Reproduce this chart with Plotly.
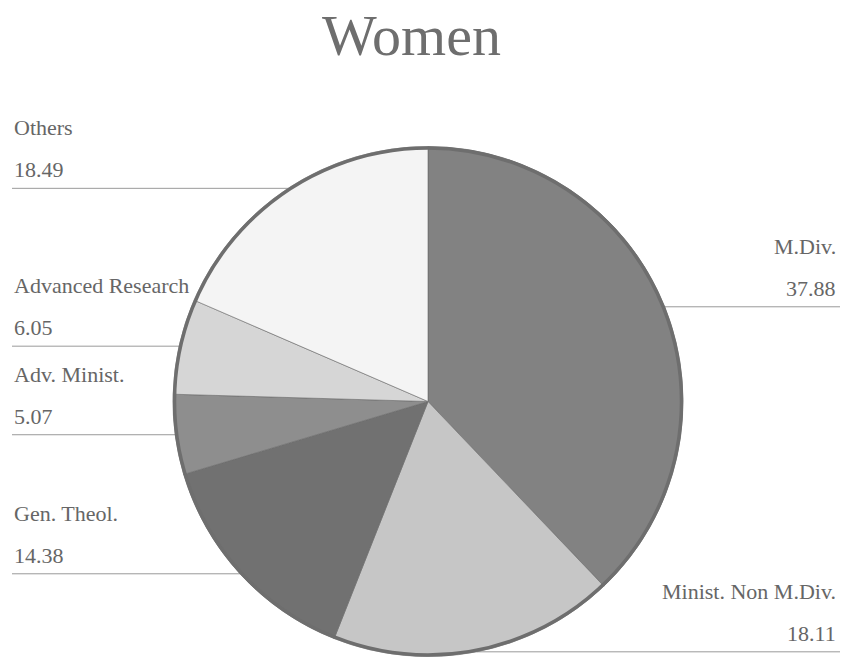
import math
import plotly.graph_objects as go

# ---- data ----
categories = ["M.Div.", "Minist. Non M.Div.", "Gen. Theol.", "Adv. Minist.", "Advanced Research", "Others"]
values = [37.88, 18.11, 14.38, 5.07, 6.05, 18.49]
value_labels = ["37.88", "18.11", "14.38", "5.07", "6.05", "18.49"]
colors = ["#828282", "#c6c6c6", "#717171", "#8e8e8e", "#d6d6d6", "#f4f4f4"]
title_text = "Women"

# ---- layout geometry (pixels) ----
W, H = 843, 658
CX, CY, R = 428.0, 401.5, 255.0
LEFT_X, RIGHT_X = 12.0, 840.0
FONT = "Liberation Serif, Times New Roman, serif"
TXT = "#666666"


def px(x):
    return x / W


def py(y):
    return 1 - y / H


fig = go.Figure()
fig.add_trace(go.Pie(
    labels=categories,
    values=values,
    sort=False,
    direction="clockwise",
    rotation=0,
    textinfo="none",
    hoverinfo="label+value",
    showlegend=False,
    marker=dict(colors=colors, line=dict(color="#6a6a6a", width=0.6)),
    domain=dict(x=[px(CX - R), px(CX + R)], y=[py(CY + R), py(CY - R)]),
))

shapes = []
annotations = []
# outer border of the pie
shapes.append(dict(type="circle", xref="paper", yref="paper",
                   x0=px(CX - R + 1.5), x1=px(CX + R - 1.5),
                   y0=py(CY + R - 1.5), y1=py(CY - R + 1.5),
                   line=dict(color="#6e6e6e", width=3.5)))

total = sum(values)
cum = 0.0
for name, v, vl in zip(categories, values, value_labels):
    mid = (cum + v / 2) / total * 2 * math.pi
    cum += v
    ex = CX + R * math.sin(mid)
    ey = CY - R * math.cos(mid)
    right = math.sin(mid) > 0
    x_end = RIGHT_X if right else LEFT_X
    shapes.append(dict(type="line", xref="paper", yref="paper",
                       x0=px(ex), x1=px(x_end), y0=py(ey), y1=py(ey),
                       line=dict(color="#9a9a9a", width=1), layer="below"))
    anchor = "right" if right else "left"
    tx = px(RIGHT_X - 2) if right else px(LEFT_X)
    annotations.append(dict(text=vl, x=tx, y=py(ey - 4), xref="paper", yref="paper",
                            xanchor=anchor, yanchor="bottom", showarrow=False,
                            font=dict(family=FONT, size=22, color=TXT)))
    annotations.append(dict(text=name, x=tx, y=py(ey - 46), xref="paper", yref="paper",
                            xanchor=anchor, yanchor="bottom", showarrow=False,
                            font=dict(family=FONT, size=22, color=TXT)))

annotations.append(dict(text=title_text, x=px(411), y=py(70), xref="paper", yref="paper",
                        xanchor="center", yanchor="bottom", showarrow=False,
                        font=dict(family=FONT, size=58, color="#6e6e6e")))

fig.update_layout(
    width=W, height=H,
    margin=dict(l=0, r=0, t=0, b=0),
    paper_bgcolor="white", plot_bgcolor="white",
    shapes=shapes, annotations=annotations,
)

fig.write_html("out.html", config={"displayModeBar": False},
               post_script="document.body.style.margin='0';document.body.style.overflow='hidden';")
